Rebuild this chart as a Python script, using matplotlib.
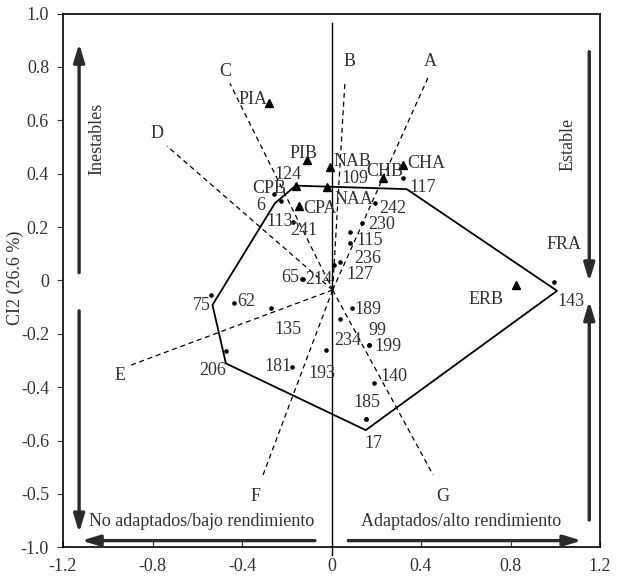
import matplotlib
matplotlib.use('Agg')
import matplotlib.pyplot as plt

plt.rcParams['font.family'] = ['Liberation Serif', 'DejaVu Serif']

# genotypes (dots)
gen_names = ['117', '6', '113', '241', '124', '109', '242', '230', '', '115',
             '236', '127', '65', '214', '75', '62', '135', '189', '234', '99',
             '199', '206', '181', '193', '140', '185', '17', '143']
gen_x = [0.318, -0.257, -0.226, -0.172, -0.160, -0.021, 0.194, 0.135, 0.083, 0.083,
         0.038, 0.011, -0.131, -0.128, -0.540, -0.434, -0.272, 0.090, 0.038, 0.166,
         0.166, -0.472, -0.178, -0.026, 0.191, 0.153, 0.153, 0.994]
gen_y = [0.383, 0.324, 0.297, 0.219, 0.355, 0.351, 0.289, 0.214, 0.182, 0.139,
         0.070, 0.058, 0.004, 0.004, -0.055, -0.086, -0.105, -0.105, -0.146, -0.242,
         -0.242, -0.263, -0.326, -0.261, -0.386, -0.519, -0.519, -0.005]

# environments (triangles)
env_names = ['PIA', 'PIB', 'NAB', 'NAA', 'CHA', 'CHB', 'CPB', 'CPA', 'ERB']
env_x = [-0.278, -0.111, -0.007, -0.021, 0.318, 0.229, -0.160, -0.144, 0.825]
env_y = [0.666, 0.451, 0.426, 0.351, 0.431, 0.383, 0.355, 0.280, -0.017]

# polygon of the "which-won-where" view
hull_x = [-0.160, 0.336, 1.008, 0.153, -0.472, -0.532, -0.253, -0.160]
hull_y = [0.355, 0.342, -0.039, -0.561, -0.311, -0.092, 0.289, 0.355]

# rays from the origin
ray_origin = (0.005, -0.036)
ray_names = ['A', 'B', 'C', 'D', 'E', 'F', 'G']
ray_x = [0.433, 0.060, -0.454, -0.735, -0.908, -0.306, 0.454]
ray_y = [0.763, 0.744, 0.738, 0.503, -0.321, -0.729, -0.729]

yticks = [1.0, 0.8, 0.6, 0.4, 0.2, 0, -0.2, -0.4, -0.6, -0.8, -1.0]
ytick_labels = ['1.0', '0.8', '0.6', '0.4', '0.2', '0', '-0.2', '-0.4', '-0.6', '-0.5', '-1.0']
xticks = [-1.2, -0.8, -0.4, 0, 0.4, 0.8, 1.2]
xtick_labels = ['-1.2', '-0.8', '-0.4', '0', '0.4', '0.8', '1.2']

# label offsets in pixels (left edge, vertical centre)
gen_off = [(7, -9), (-18, -12), (-15, -20), (-3, -9), (-21, 11), (15, 8), (4, -5), (7, -1), (0, 0), (6, 3),
           (14, 3), (12, -10), (-21, 2), (2, 0), (-18, -10), (3, 2), (4, -21), (3, -1), (-6, -21), (0, 14),
           (6, -2), (-27, -20), (-27, 1), (-17, -23), (6, 7), (-12, 16), (-1, -25), (3, -20)]
env_off = [(-31, 3), (-17, 7), (4, 5), (8, -13), (5, 2), (-16, 7), (-43, -3), (4, -3), (-48, -15)]
ray_off = [(2, 15), (5, 20), (-5, 12), (-10, 13), (-8, -9), (-8, -22), (10, -22)]

fs = 13
txt = '#333333'
fig = plt.figure(figsize=(6.2, 5.79), dpi=100)
ax = fig.add_axes([63 / 620, 31.7 / 579, 537 / 620, 533.8 / 579])
ax.set_xlim(-1.2, 1.2)
ax.set_ylim(-1.0, 1.0)

# zero line
ax.plot([0, 0], [0.966, -1.03], color='black', lw=1, clip_on=False)

# rays
for n, x, y, off in zip(ray_names, ray_x, ray_y, ray_off):
    ax.plot([ray_origin[0], x], [ray_origin[1], y], color='black', lw=0.9, ls=(0, (4, 3)))
    ax.annotate(n, (x, y), xytext=off, textcoords='offset pixels',
                ha='center', va='center', fontsize=fs, color=txt)

# hull
ax.plot(hull_x, hull_y, color='black', lw=1.3)

# genotypes
ax.plot(gen_x, gen_y, 'o', color='black', ms=2.3, ls='none')
for n, x, y, off in zip(gen_names, gen_x, gen_y, gen_off):
    if n:
        ax.annotate(n, (x, y), xytext=off, textcoords='offset pixels',
                    ha='left', va='center', fontsize=fs, color=txt)

# environments
ax.plot(env_x, env_y, '^', color='black', ms=6, ls='none')
for n, x, y, off in zip(env_names, env_x, env_y, env_off):
    ax.annotate(n, (x, y), xytext=off, textcoords='offset pixels',
                ha='left', va='center', fontsize=fs, color=txt)
ax.text(0.962, 0.133, 'FRA', ha='left', va='center', fontsize=fs, color=txt)

# side arrows
arrows = [((-1.128, 0.029), (-1.128, 0.888)),
          ((-1.128, -0.114), (-1.128, -0.946)),
          ((1.152, 0.857), (1.152, -0.005)),
          ((1.152, -0.898), (1.152, -0.077)),
          ((-0.074, -0.975), (-1.118, -0.975)),
          ((0.075, -0.975), (1.119, -0.975))]
for start, tip in arrows:
    ax.annotate('', xy=tip, xytext=start,
                arrowprops=dict(arrowstyle='-|>,head_length=0.6,head_width=0.18',
                                lw=2.4, color='#2b2b2b', mutation_scale=18,
                                shrinkA=0, shrinkB=0))

ax.text(-1.05, 0.53, 'Inestables', rotation=90, ha='center', va='center', fontsize=fs, color=txt)
ax.text(1.055, 0.51, 'Estable', rotation=90, ha='center', va='center', fontsize=fs, color=txt)
ax.text(-0.58, -0.905, 'No adaptados/bajo rendimiento', ha='center', va='center', fontsize=fs, color=txt)
ax.text(0.58, -0.905, 'Adaptados/alto rendimiento', ha='center', va='center', fontsize=fs, color=txt)

ax.set_xticks(xticks)
ax.set_xticklabels(xtick_labels)
ax.set_yticks(yticks)
ax.set_yticklabels(ytick_labels)
ax.tick_params(axis='x', direction='in', length=4, labelsize=fs, pad=8, colors=txt)
ax.tick_params(axis='y', direction='out', length=4, labelsize=fs, pad=6, colors=txt)
for sp in ax.spines.values():
    sp.set_linewidth(1.2)

fig.text(15 / 620, 1 - 278 / 579, 'CI2 (26.6 %)', rotation=90, ha='center', va='center',
         fontsize=fs, color=txt)

fig.savefig('out.png', dpi=100)
